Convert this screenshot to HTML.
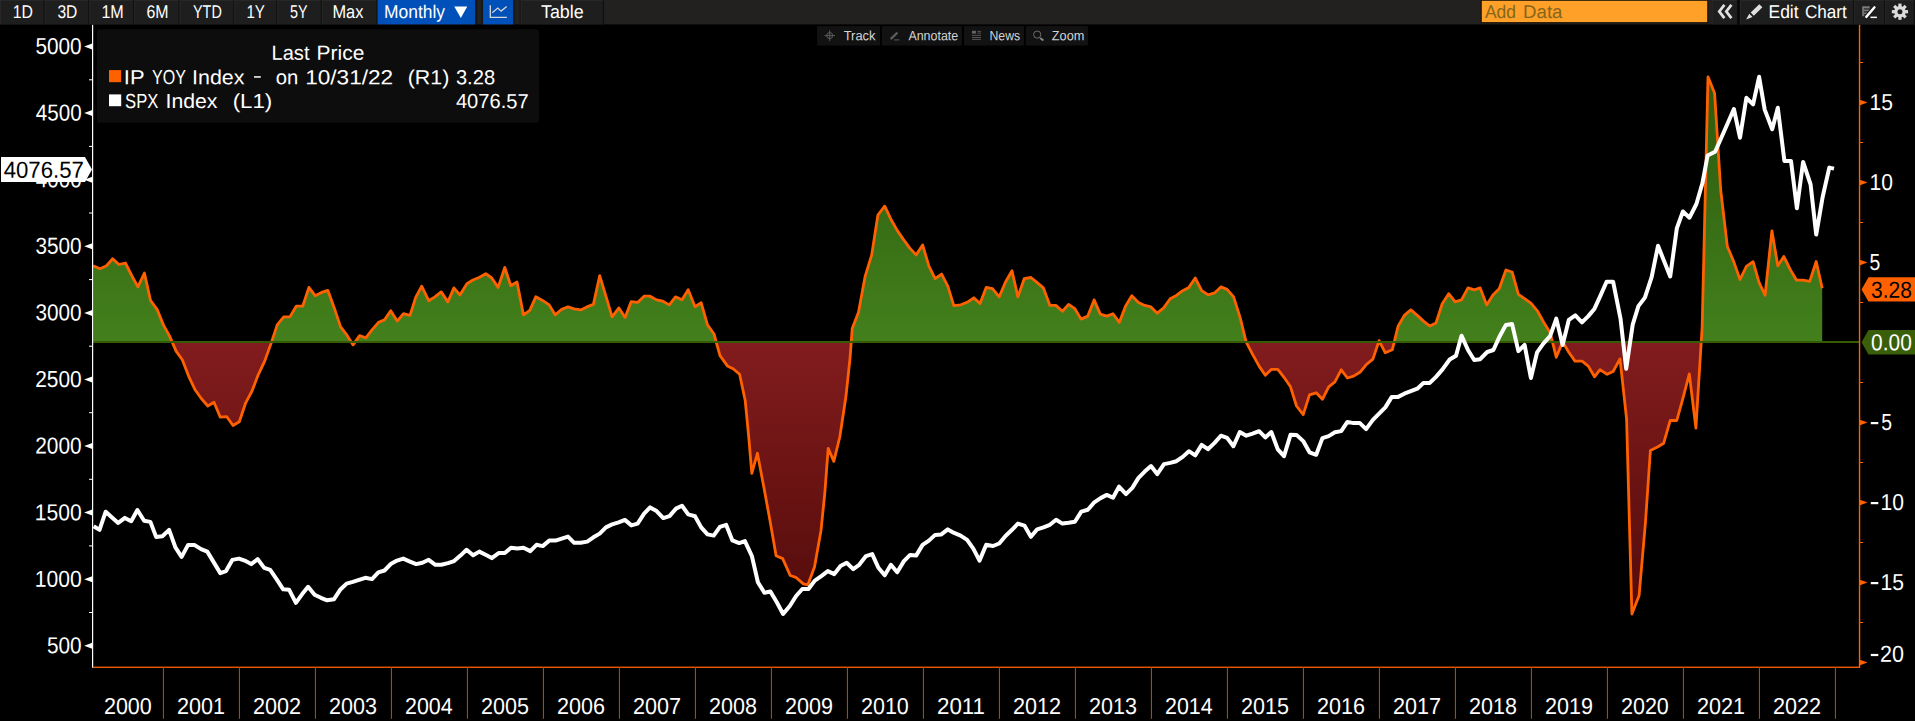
<!DOCTYPE html>
<html><head><meta charset="utf-8"><title>Chart</title>
<style>
html,body{margin:0;padding:0;background:#000;}
body{width:1915px;height:721px;overflow:hidden;position:relative;font-family:"Liberation Sans", sans-serif;}
svg{position:absolute;left:0;top:0;}
svg text{font-family:"Liberation Sans", sans-serif;}
</style></head><body>
<svg width="1915" height="721" viewBox="0 0 1915 721">
<rect x="0" y="0" width="1915" height="721" fill="#000"/>
<defs>
<linearGradient id="gG" gradientUnits="userSpaceOnUse" x1="0" y1="60" x2="0" y2="342.0">
<stop offset="0" stop-color="#2a560c"/><stop offset="1" stop-color="#43801c"/></linearGradient>
<linearGradient id="gR" gradientUnits="userSpaceOnUse" x1="0" y1="342.0" x2="0" y2="620">
<stop offset="0" stop-color="#821c1e"/><stop offset="0.5" stop-color="#6b1313"/><stop offset="1" stop-color="#520b0b"/></linearGradient>
<clipPath id="cUp"><rect x="0" y="0" width="1915" height="342.0"/></clipPath>
<clipPath id="cDn"><rect x="0" y="342.0" width="1915" height="721"/></clipPath>
</defs>
<rect x="97" y="29.2" width="442" height="93.6" rx="3" fill="#0d0d0d"/>
<polygon points="93.2,342.0 93.2,265.7 100.0,268.7 106.5,265.7 112.7,258.7 118.9,264.5 125.4,263.0 131.7,275.5 137.9,286.9 144.4,273.0 150.6,300.7 157.1,309.4 163.4,324.9 169.6,336.1 176.1,351.1 182.3,359.8 188.6,376.1 195.1,389.8 201.3,398.5 207.8,406.0 214.0,402.3 220.3,417.2 226.8,416.7 233.0,425.5 239.3,421.7 245.7,402.8 252.0,391.0 258.2,374.8 264.7,361.1 271.0,343.6 277.2,324.9 283.7,316.9 289.9,316.9 296.2,306.2 302.7,306.2 308.9,287.4 315.1,295.7 321.6,292.4 327.9,290.4 334.1,307.4 340.6,326.9 346.8,334.9 353.1,344.9 359.6,335.6 365.8,337.9 372.0,329.9 378.5,322.4 384.5,319.9 390.7,310.7 397.2,321.1 403.5,313.7 410.0,315.4 415.7,297.4 421.7,286.2 428.7,300.7 434.9,296.9 441.2,291.9 447.9,301.9 453.9,287.9 459.9,294.9 466.9,283.7 472.9,280.0 479.1,277.5 485.8,273.7 491.8,278.0 498.1,287.4 504.8,267.5 510.8,285.7 517.0,282.0 523.5,314.9 529.8,310.4 535.8,296.7 542.5,300.4 549.2,304.9 555.2,314.9 561.7,309.2 568.0,306.9 574.2,308.9 580.7,309.9 586.9,306.9 593.4,304.4 599.7,275.7 605.9,296.2 612.1,316.9 618.9,307.9 625.1,317.4 631.1,301.7 637.6,302.4 644.1,296.2 650.1,296.2 656.6,299.9 662.8,301.2 669.3,304.9 675.5,296.9 682.0,299.8 688.2,289.8 695.0,306.8 701.2,302.8 707.5,324.8 714.2,334.3 716.2,342.1 720.0,355.6 727.4,365.9 733.1,368.7 739.6,374.3 745.2,400.5 749.0,439.8 751.8,473.4 757.4,453.3 763.9,487.5 770.1,521.2 776.1,555.8 782.7,558.6 790.2,575.5 795.8,577.3 803.3,583.9 807.9,584.8 814.5,567.0 821.0,530.5 824.8,493.1 828.2,448.3 833.8,461.4 839.8,437.0 845.9,396.8 850.1,357.5 852.2,328.5 858.5,312.3 865.2,276.1 871.7,254.9 877.9,215.0 884.7,206.2 890.9,219.2 897.2,230.4 903.4,239.4 909.6,247.9 916.1,254.9 922.6,244.9 928.9,266.1 935.1,278.6 941.6,274.1 947.8,286.1 953.8,305.6 960.8,304.8 967.1,302.3 973.8,297.8 980.0,303.6 986.2,287.4 992.5,288.7 999.2,296.9 1005.5,282.0 1012.0,270.7 1017.9,296.9 1024.2,278.7 1030.9,277.5 1036.9,282.4 1043.4,287.9 1049.9,305.4 1055.9,305.4 1062.4,311.2 1068.6,304.4 1074.9,308.7 1081.1,319.1 1087.8,316.1 1094.1,299.9 1100.3,314.1 1106.8,316.1 1113.0,313.7 1119.3,322.4 1125.5,306.2 1131.8,295.7 1138.5,302.4 1144.7,305.4 1151.0,306.9 1157.2,313.2 1163.7,307.9 1170.2,298.7 1176.4,295.4 1182.7,290.7 1188.9,287.4 1195.2,278.0 1201.7,290.7 1208.1,294.9 1214.6,292.9 1220.9,286.9 1227.1,289.4 1233.6,296.9 1240.1,317.4 1246.1,341.9 1252.6,354.3 1259.1,366.1 1265.3,375.3 1271.5,369.3 1277.8,369.3 1284.0,377.3 1290.5,386.8 1296.5,406.0 1303.2,414.7 1309.5,394.8 1316.2,392.8 1322.4,399.3 1328.7,386.8 1334.9,381.8 1341.2,369.8 1347.4,378.0 1353.6,376.1 1359.9,372.3 1366.1,364.8 1372.9,359.1 1379.1,340.6 1385.3,352.8 1392.3,349.8 1398.1,326.1 1404.3,315.4 1410.8,309.9 1417.3,315.4 1423.5,321.1 1429.8,326.1 1436.0,322.9 1442.2,303.7 1448.7,293.7 1455.2,301.9 1461.5,299.9 1468.0,287.9 1474.2,289.9 1480.2,287.9 1486.7,304.9 1492.9,294.9 1499.2,288.7 1505.9,270.0 1512.1,272.0 1518.4,294.4 1524.6,298.7 1530.9,303.2 1537.6,311.2 1543.8,322.4 1550.1,332.4 1556.3,357.3 1562.6,341.9 1568.8,352.3 1575.0,361.1 1582.0,361.1 1588.3,366.1 1594.5,376.8 1600.0,369.6 1607.1,374.3 1613.1,371.5 1620.0,358.9 1626.6,419.2 1631.9,614.0 1639.1,595.5 1645.4,523.0 1650.4,450.5 1657.5,447.0 1663.7,443.2 1670.2,420.5 1676.8,420.5 1683.3,396.8 1689.3,373.9 1695.9,428.2 1702.2,326.0 1708.0,76.8 1714.6,93.3 1720.7,190.0 1727.3,246.2 1733.9,262.1 1740.0,279.5 1746.4,266.4 1753.1,261.7 1759.1,282.7 1765.1,295.2 1771.9,230.8 1777.8,265.8 1783.8,256.5 1790.6,270.1 1796.6,280.2 1803.1,280.2 1809.7,281.4 1816.2,261.5 1822.2,288.3 1822.2,342.0" fill="url(#gG)" clip-path="url(#cUp)"/>
<polygon points="93.2,342.0 93.2,265.7 100.0,268.7 106.5,265.7 112.7,258.7 118.9,264.5 125.4,263.0 131.7,275.5 137.9,286.9 144.4,273.0 150.6,300.7 157.1,309.4 163.4,324.9 169.6,336.1 176.1,351.1 182.3,359.8 188.6,376.1 195.1,389.8 201.3,398.5 207.8,406.0 214.0,402.3 220.3,417.2 226.8,416.7 233.0,425.5 239.3,421.7 245.7,402.8 252.0,391.0 258.2,374.8 264.7,361.1 271.0,343.6 277.2,324.9 283.7,316.9 289.9,316.9 296.2,306.2 302.7,306.2 308.9,287.4 315.1,295.7 321.6,292.4 327.9,290.4 334.1,307.4 340.6,326.9 346.8,334.9 353.1,344.9 359.6,335.6 365.8,337.9 372.0,329.9 378.5,322.4 384.5,319.9 390.7,310.7 397.2,321.1 403.5,313.7 410.0,315.4 415.7,297.4 421.7,286.2 428.7,300.7 434.9,296.9 441.2,291.9 447.9,301.9 453.9,287.9 459.9,294.9 466.9,283.7 472.9,280.0 479.1,277.5 485.8,273.7 491.8,278.0 498.1,287.4 504.8,267.5 510.8,285.7 517.0,282.0 523.5,314.9 529.8,310.4 535.8,296.7 542.5,300.4 549.2,304.9 555.2,314.9 561.7,309.2 568.0,306.9 574.2,308.9 580.7,309.9 586.9,306.9 593.4,304.4 599.7,275.7 605.9,296.2 612.1,316.9 618.9,307.9 625.1,317.4 631.1,301.7 637.6,302.4 644.1,296.2 650.1,296.2 656.6,299.9 662.8,301.2 669.3,304.9 675.5,296.9 682.0,299.8 688.2,289.8 695.0,306.8 701.2,302.8 707.5,324.8 714.2,334.3 716.2,342.1 720.0,355.6 727.4,365.9 733.1,368.7 739.6,374.3 745.2,400.5 749.0,439.8 751.8,473.4 757.4,453.3 763.9,487.5 770.1,521.2 776.1,555.8 782.7,558.6 790.2,575.5 795.8,577.3 803.3,583.9 807.9,584.8 814.5,567.0 821.0,530.5 824.8,493.1 828.2,448.3 833.8,461.4 839.8,437.0 845.9,396.8 850.1,357.5 852.2,328.5 858.5,312.3 865.2,276.1 871.7,254.9 877.9,215.0 884.7,206.2 890.9,219.2 897.2,230.4 903.4,239.4 909.6,247.9 916.1,254.9 922.6,244.9 928.9,266.1 935.1,278.6 941.6,274.1 947.8,286.1 953.8,305.6 960.8,304.8 967.1,302.3 973.8,297.8 980.0,303.6 986.2,287.4 992.5,288.7 999.2,296.9 1005.5,282.0 1012.0,270.7 1017.9,296.9 1024.2,278.7 1030.9,277.5 1036.9,282.4 1043.4,287.9 1049.9,305.4 1055.9,305.4 1062.4,311.2 1068.6,304.4 1074.9,308.7 1081.1,319.1 1087.8,316.1 1094.1,299.9 1100.3,314.1 1106.8,316.1 1113.0,313.7 1119.3,322.4 1125.5,306.2 1131.8,295.7 1138.5,302.4 1144.7,305.4 1151.0,306.9 1157.2,313.2 1163.7,307.9 1170.2,298.7 1176.4,295.4 1182.7,290.7 1188.9,287.4 1195.2,278.0 1201.7,290.7 1208.1,294.9 1214.6,292.9 1220.9,286.9 1227.1,289.4 1233.6,296.9 1240.1,317.4 1246.1,341.9 1252.6,354.3 1259.1,366.1 1265.3,375.3 1271.5,369.3 1277.8,369.3 1284.0,377.3 1290.5,386.8 1296.5,406.0 1303.2,414.7 1309.5,394.8 1316.2,392.8 1322.4,399.3 1328.7,386.8 1334.9,381.8 1341.2,369.8 1347.4,378.0 1353.6,376.1 1359.9,372.3 1366.1,364.8 1372.9,359.1 1379.1,340.6 1385.3,352.8 1392.3,349.8 1398.1,326.1 1404.3,315.4 1410.8,309.9 1417.3,315.4 1423.5,321.1 1429.8,326.1 1436.0,322.9 1442.2,303.7 1448.7,293.7 1455.2,301.9 1461.5,299.9 1468.0,287.9 1474.2,289.9 1480.2,287.9 1486.7,304.9 1492.9,294.9 1499.2,288.7 1505.9,270.0 1512.1,272.0 1518.4,294.4 1524.6,298.7 1530.9,303.2 1537.6,311.2 1543.8,322.4 1550.1,332.4 1556.3,357.3 1562.6,341.9 1568.8,352.3 1575.0,361.1 1582.0,361.1 1588.3,366.1 1594.5,376.8 1600.0,369.6 1607.1,374.3 1613.1,371.5 1620.0,358.9 1626.6,419.2 1631.9,614.0 1639.1,595.5 1645.4,523.0 1650.4,450.5 1657.5,447.0 1663.7,443.2 1670.2,420.5 1676.8,420.5 1683.3,396.8 1689.3,373.9 1695.9,428.2 1702.2,326.0 1708.0,76.8 1714.6,93.3 1720.7,190.0 1727.3,246.2 1733.9,262.1 1740.0,279.5 1746.4,266.4 1753.1,261.7 1759.1,282.7 1765.1,295.2 1771.9,230.8 1777.8,265.8 1783.8,256.5 1790.6,270.1 1796.6,280.2 1803.1,280.2 1809.7,281.4 1816.2,261.5 1822.2,288.3 1822.2,342.0" fill="url(#gR)" clip-path="url(#cDn)"/>
<polyline points="93.2,265.7 100.0,268.7 106.5,265.7 112.7,258.7 118.9,264.5 125.4,263.0 131.7,275.5 137.9,286.9 144.4,273.0 150.6,300.7 157.1,309.4 163.4,324.9 169.6,336.1 176.1,351.1 182.3,359.8 188.6,376.1 195.1,389.8 201.3,398.5 207.8,406.0 214.0,402.3 220.3,417.2 226.8,416.7 233.0,425.5 239.3,421.7 245.7,402.8 252.0,391.0 258.2,374.8 264.7,361.1 271.0,343.6 277.2,324.9 283.7,316.9 289.9,316.9 296.2,306.2 302.7,306.2 308.9,287.4 315.1,295.7 321.6,292.4 327.9,290.4 334.1,307.4 340.6,326.9 346.8,334.9 353.1,344.9 359.6,335.6 365.8,337.9 372.0,329.9 378.5,322.4 384.5,319.9 390.7,310.7 397.2,321.1 403.5,313.7 410.0,315.4 415.7,297.4 421.7,286.2 428.7,300.7 434.9,296.9 441.2,291.9 447.9,301.9 453.9,287.9 459.9,294.9 466.9,283.7 472.9,280.0 479.1,277.5 485.8,273.7 491.8,278.0 498.1,287.4 504.8,267.5 510.8,285.7 517.0,282.0 523.5,314.9 529.8,310.4 535.8,296.7 542.5,300.4 549.2,304.9 555.2,314.9 561.7,309.2 568.0,306.9 574.2,308.9 580.7,309.9 586.9,306.9 593.4,304.4 599.7,275.7 605.9,296.2 612.1,316.9 618.9,307.9 625.1,317.4 631.1,301.7 637.6,302.4 644.1,296.2 650.1,296.2 656.6,299.9 662.8,301.2 669.3,304.9 675.5,296.9 682.0,299.8 688.2,289.8 695.0,306.8 701.2,302.8 707.5,324.8 714.2,334.3 716.2,342.1 720.0,355.6 727.4,365.9 733.1,368.7 739.6,374.3 745.2,400.5 749.0,439.8 751.8,473.4 757.4,453.3 763.9,487.5 770.1,521.2 776.1,555.8 782.7,558.6 790.2,575.5 795.8,577.3 803.3,583.9 807.9,584.8 814.5,567.0 821.0,530.5 824.8,493.1 828.2,448.3 833.8,461.4 839.8,437.0 845.9,396.8 850.1,357.5 852.2,328.5 858.5,312.3 865.2,276.1 871.7,254.9 877.9,215.0 884.7,206.2 890.9,219.2 897.2,230.4 903.4,239.4 909.6,247.9 916.1,254.9 922.6,244.9 928.9,266.1 935.1,278.6 941.6,274.1 947.8,286.1 953.8,305.6 960.8,304.8 967.1,302.3 973.8,297.8 980.0,303.6 986.2,287.4 992.5,288.7 999.2,296.9 1005.5,282.0 1012.0,270.7 1017.9,296.9 1024.2,278.7 1030.9,277.5 1036.9,282.4 1043.4,287.9 1049.9,305.4 1055.9,305.4 1062.4,311.2 1068.6,304.4 1074.9,308.7 1081.1,319.1 1087.8,316.1 1094.1,299.9 1100.3,314.1 1106.8,316.1 1113.0,313.7 1119.3,322.4 1125.5,306.2 1131.8,295.7 1138.5,302.4 1144.7,305.4 1151.0,306.9 1157.2,313.2 1163.7,307.9 1170.2,298.7 1176.4,295.4 1182.7,290.7 1188.9,287.4 1195.2,278.0 1201.7,290.7 1208.1,294.9 1214.6,292.9 1220.9,286.9 1227.1,289.4 1233.6,296.9 1240.1,317.4 1246.1,341.9 1252.6,354.3 1259.1,366.1 1265.3,375.3 1271.5,369.3 1277.8,369.3 1284.0,377.3 1290.5,386.8 1296.5,406.0 1303.2,414.7 1309.5,394.8 1316.2,392.8 1322.4,399.3 1328.7,386.8 1334.9,381.8 1341.2,369.8 1347.4,378.0 1353.6,376.1 1359.9,372.3 1366.1,364.8 1372.9,359.1 1379.1,340.6 1385.3,352.8 1392.3,349.8 1398.1,326.1 1404.3,315.4 1410.8,309.9 1417.3,315.4 1423.5,321.1 1429.8,326.1 1436.0,322.9 1442.2,303.7 1448.7,293.7 1455.2,301.9 1461.5,299.9 1468.0,287.9 1474.2,289.9 1480.2,287.9 1486.7,304.9 1492.9,294.9 1499.2,288.7 1505.9,270.0 1512.1,272.0 1518.4,294.4 1524.6,298.7 1530.9,303.2 1537.6,311.2 1543.8,322.4 1550.1,332.4 1556.3,357.3 1562.6,341.9 1568.8,352.3 1575.0,361.1 1582.0,361.1 1588.3,366.1 1594.5,376.8 1600.0,369.6 1607.1,374.3 1613.1,371.5 1620.0,358.9 1626.6,419.2 1631.9,614.0 1639.1,595.5 1645.4,523.0 1650.4,450.5 1657.5,447.0 1663.7,443.2 1670.2,420.5 1676.8,420.5 1683.3,396.8 1689.3,373.9 1695.9,428.2 1702.2,326.0 1708.0,76.8 1714.6,93.3 1720.7,190.0 1727.3,246.2 1733.9,262.1 1740.0,279.5 1746.4,266.4 1753.1,261.7 1759.1,282.7 1765.1,295.2 1771.9,230.8 1777.8,265.8 1783.8,256.5 1790.6,270.1 1796.6,280.2 1803.1,280.2 1809.7,281.4 1816.2,261.5 1822.2,288.3" fill="none" stroke="#ff6100" stroke-width="2.8" stroke-linejoin="round" stroke-linecap="butt"/>
<rect x="93" y="341" width="1766.5" height="2" fill="#355c00"/>
<polyline points="93.7,526.2 99.5,529.9 105.7,511.7 112.0,517.4 118.2,522.9 124.9,517.9 131.2,521.2 137.4,510.0 144.1,520.7 150.4,521.9 156.1,536.9 162.4,536.2 169.1,529.9 175.4,547.4 181.6,556.9 188.1,544.9 194.3,544.9 201.1,549.1 207.3,551.6 213.5,561.9 220.3,573.1 226.0,571.1 232.3,559.9 239.0,558.6 244.7,560.6 251.2,564.1 257.7,559.1 264.2,567.9 270.2,569.9 276.7,579.3 283.2,589.3 289.2,589.8 295.9,602.8 302.2,594.1 308.1,586.8 314.6,594.8 320.9,597.8 327.1,600.3 333.9,599.3 340.1,589.8 346.6,583.6 352.8,581.8 359.1,579.8 365.3,577.8 372.0,579.1 378.3,572.4 384.5,570.5 390.7,564.1 397.0,560.6 403.2,558.6 410.0,561.6 416.2,564.1 422.4,562.8 428.7,559.8 435.4,564.8 441.4,564.8 447.9,563.1 454.1,561.1 460.4,555.6 466.6,549.8 473.1,555.3 479.3,551.6 485.6,554.8 491.8,558.1 498.6,553.1 504.8,553.1 511.0,547.8 517.3,548.6 523.5,547.8 530.3,551.1 536.5,544.8 542.7,546.1 549.2,540.6 555.5,540.6 561.7,538.6 568.0,536.6 574.2,542.8 580.7,542.8 587.2,541.6 593.4,537.3 599.7,533.6 605.9,527.4 612.1,524.4 618.6,522.4 624.9,519.9 631.4,525.4 637.6,523.6 644.1,513.6 650.1,507.4 656.6,511.1 663.3,518.1 669.5,516.1 676.0,508.6 682.0,505.7 688.2,514.4 695.0,516.2 701.2,527.4 707.5,534.4 713.7,535.6 719.9,526.9 726.2,524.9 732.4,540.4 739.2,543.1 744.9,541.1 751.9,556.1 757.9,582.3 764.4,592.8 770.4,591.5 776.8,602.3 783.1,614.0 789.8,606.0 796.1,596.0 802.3,589.0 808.5,589.0 814.8,580.6 821.3,576.1 827.8,571.1 834.3,574.1 840.5,566.1 846.7,562.8 853.2,569.1 859.2,564.8 866.0,556.1 872.2,554.1 878.4,567.8 884.7,575.3 890.9,564.8 897.2,572.3 903.9,561.1 910.1,554.9 916.1,555.6 922.6,544.9 928.9,540.6 935.1,534.9 941.3,534.4 947.8,529.4 954.1,532.9 960.6,535.6 967.1,539.9 973.3,548.6 979.5,560.6 986.2,544.8 993.0,546.0 999.2,543.5 1005.5,536.0 1012.0,529.8 1017.9,523.6 1024.4,525.6 1030.9,536.8 1037.2,529.3 1043.4,527.3 1049.9,524.8 1056.1,519.8 1062.4,523.6 1068.6,522.8 1074.9,521.8 1081.3,511.6 1087.8,509.8 1094.3,502.3 1100.6,498.1 1106.8,494.9 1113.0,497.8 1119.0,486.6 1126.0,494.1 1132.3,487.9 1138.5,477.9 1144.7,471.6 1151.0,466.1 1157.2,474.1 1164.0,464.1 1170.2,462.9 1176.4,461.2 1182.7,456.9 1188.9,451.2 1195.2,455.4 1201.7,444.9 1207.9,449.2 1214.6,442.9 1220.9,435.7 1227.1,437.9 1233.4,446.2 1239.8,432.0 1246.3,435.7 1252.6,433.7 1259.1,431.2 1265.3,437.4 1271.3,432.0 1277.8,449.4 1284.0,456.2 1290.5,434.8 1296.5,434.9 1303.2,441.1 1309.5,452.3 1316.2,454.8 1322.4,438.1 1328.7,436.1 1334.9,432.3 1341.2,431.1 1347.4,421.9 1353.6,423.1 1359.9,423.1 1366.1,429.1 1372.9,419.9 1379.1,413.6 1385.3,407.4 1391.8,396.9 1398.1,396.9 1404.3,393.7 1410.8,391.2 1417.3,388.7 1423.5,382.9 1429.8,382.9 1436.0,376.9 1442.5,369.4 1449.7,359.5 1456.0,355.7 1461.5,335.7 1468.0,350.0 1474.2,360.0 1480.2,359.2 1487.2,352.0 1493.4,350.0 1499.7,336.2 1505.9,324.9 1512.1,324.1 1518.4,351.1 1524.6,344.9 1530.9,378.0 1537.1,352.3 1543.3,343.6 1550.1,336.1 1556.3,318.6 1562.6,344.9 1568.8,319.9 1575.3,315.4 1582.0,322.4 1588.3,316.1 1594.5,308.7 1600.0,296.7 1606.6,281.7 1613.1,281.7 1620.6,319.2 1626.2,368.7 1632.7,324.6 1638.4,306.1 1644.9,297.6 1651.7,276.8 1658.0,245.8 1670.2,276.5 1676.8,228.4 1682.9,211.5 1689.5,217.7 1696.4,204.0 1702.4,183.3 1707.6,155.5 1715.1,151.7 1721.3,137.7 1727.7,123.3 1733.9,109.0 1740.0,137.7 1746.4,97.8 1753.1,104.4 1759.1,76.8 1764.7,109.6 1772.2,129.3 1777.8,107.7 1784.4,161.1 1791.0,161.1 1796.9,208.3 1803.1,162.0 1810.6,184.5 1816.2,234.6 1822.7,196.7 1829.3,167.6 1834.0,168.6" fill="none" stroke="#fff" stroke-width="4.0" stroke-linejoin="round" stroke-linecap="butt"/>
<rect x="92" y="24.7" width="1.2" height="643.0" fill="#fff"/>
<rect x="1858.85" y="24.7" width="1.4" height="643.1" fill="#ff6100"/>
<rect x="93" y="666.6" width="1767.1" height="1.3" fill="#ff6100"/>
<polygon points="92.2,642.8 92.2,648.8 84.2,645.8" fill="#fff"/>
<text transform="translate(46.97,653.31) rotate(0.03) scale(0.8985,1.0000)" font-size="23.1" fill="#fff" >500</text>
<polygon points="92.2,576.2 92.2,582.2 84.2,579.2" fill="#fff"/>
<text transform="translate(34.72,586.72) rotate(0.03) scale(0.9130,1.0000)" font-size="23.1" fill="#fff" >1000</text>
<polygon points="92.2,509.6 92.2,515.6 84.2,512.6" fill="#fff"/>
<text transform="translate(34.72,520.13) rotate(0.03) scale(0.9130,1.0000)" font-size="23.1" fill="#fff" >1500</text>
<polygon points="92.2,443.0 92.2,449.0 84.2,446.0" fill="#fff"/>
<text transform="translate(35.26,453.54) rotate(0.03) scale(0.9023,1.0000)" font-size="23.1" fill="#fff" >2000</text>
<polygon points="92.2,376.4 92.2,382.4 84.2,379.4" fill="#fff"/>
<text transform="translate(35.26,386.95) rotate(0.03) scale(0.9023,1.0000)" font-size="23.1" fill="#fff" >2500</text>
<polygon points="92.2,309.9 92.2,315.9 84.2,312.9" fill="#fff"/>
<text transform="translate(35.52,320.36) rotate(0.03) scale(0.8970,1.0000)" font-size="23.1" fill="#fff" >3000</text>
<polygon points="92.2,243.3 92.2,249.3 84.2,246.3" fill="#fff"/>
<text transform="translate(35.52,253.77) rotate(0.03) scale(0.8970,1.0000)" font-size="23.1" fill="#fff" >3500</text>
<polygon points="92.2,176.7 92.2,182.7 84.2,179.7" fill="#fff"/>
<text transform="translate(35.84,187.18) rotate(0.03) scale(0.8908,1.0000)" font-size="23.1" fill="#fff" >4000</text>
<polygon points="92.2,110.1 92.2,116.1 84.2,113.1" fill="#fff"/>
<text transform="translate(35.84,120.59) rotate(0.03) scale(0.8908,1.0000)" font-size="23.1" fill="#fff" >4500</text>
<polygon points="92.2,43.5 92.2,49.5 84.2,46.5" fill="#fff"/>
<text transform="translate(35.47,54.00) rotate(0.03) scale(0.8981,1.0000)" font-size="23.1" fill="#fff" >5000</text>
<rect x="89" y="612.0" width="3" height="1" fill="#fff"/>
<rect x="89" y="545.4" width="3" height="1" fill="#fff"/>
<rect x="89" y="478.8" width="3" height="1" fill="#fff"/>
<rect x="89" y="412.2" width="3" height="1" fill="#fff"/>
<rect x="89" y="345.7" width="3" height="1" fill="#fff"/>
<rect x="89" y="279.1" width="3" height="1" fill="#fff"/>
<rect x="89" y="212.5" width="3" height="1" fill="#fff"/>
<rect x="89" y="145.9" width="3" height="1" fill="#fff"/>
<rect x="89" y="79.3" width="3" height="1" fill="#fff"/>
<polygon points="1,157.1 85,157.1 92,169.5 85,181.9 1,181.9" fill="#fff"/>
<text transform="translate(3.70,177.78) rotate(0.03) scale(0.9593,1.0000)" font-size="23.1" fill="#000" >4076.57</text>
<polygon points="1860,99.8 1860,105.2 1867.5,102.5" fill="#ff6100"/>
<text transform="translate(1869.52,109.90) rotate(0.03) scale(0.9137,1.0000)" font-size="23.1" fill="#fff" >15</text>
<polygon points="1860,179.8 1860,185.2 1867.5,182.5" fill="#ff6100"/>
<text transform="translate(1869.52,189.90) rotate(0.03) scale(0.9114,1.0000)" font-size="23.1" fill="#fff" >10</text>
<polygon points="1860,259.8 1860,265.2 1867.5,262.5" fill="#ff6100"/>
<text transform="translate(1869.43,269.90) rotate(0.03) scale(0.8385,1.0000)" font-size="23.1" fill="#fff" >5</text>
<polygon points="1860,419.8 1860,425.2 1867.5,422.5" fill="#ff6100"/>
<rect x="1870.8" y="422.0" width="7.5" height="2.2" fill="#fff"/>
<text transform="translate(1881.23,429.90) rotate(0.03) scale(0.8385,1.0000)" font-size="23.1" fill="#fff" >5</text>
<polygon points="1860,499.8 1860,505.2 1867.5,502.5" fill="#ff6100"/>
<rect x="1870.8" y="502.0" width="7.5" height="2.2" fill="#fff"/>
<text transform="translate(1880.42,509.90) rotate(0.03) scale(0.9114,1.0000)" font-size="23.1" fill="#fff" >10</text>
<polygon points="1860,579.8 1860,585.2 1867.5,582.5" fill="#ff6100"/>
<rect x="1870.8" y="582.0" width="7.5" height="2.2" fill="#fff"/>
<text transform="translate(1880.42,589.90) rotate(0.03) scale(0.9137,1.0000)" font-size="23.1" fill="#fff" >15</text>
<polygon points="1860,659.8 1860,665.2 1867.5,662.5" fill="#ff6100"/>
<rect x="1870.8" y="653.9" width="7.5" height="2.2" fill="#fff"/>
<text transform="translate(1879.92,661.80) rotate(0.03) scale(0.9314,1.0000)" font-size="23.1" fill="#fff" >20</text>
<rect x="1860" y="62.0" width="3.2" height="1" fill="#ff6100"/>
<rect x="1860" y="142.0" width="3.2" height="1" fill="#ff6100"/>
<rect x="1860" y="222.0" width="3.2" height="1" fill="#ff6100"/>
<rect x="1860" y="302.0" width="3.2" height="1" fill="#ff6100"/>
<rect x="1860" y="382.0" width="3.2" height="1" fill="#ff6100"/>
<rect x="1860" y="462.0" width="3.2" height="1" fill="#ff6100"/>
<rect x="1860" y="542.0" width="3.2" height="1" fill="#ff6100"/>
<rect x="1860" y="622.0" width="3.2" height="1" fill="#ff6100"/>
<polygon points="1861.5,289.4 1868.5,277.2 1915,277.2 1915,301.6 1868.5,301.6" fill="#ff6100"/>
<text transform="translate(1871.11,297.85) rotate(0.03) scale(0.9064,1.0000)" font-size="23.1" fill="#000" >3.28</text>
<polygon points="1861.5,342.2 1868.5,330.1 1915,330.1 1915,354.4 1868.5,354.4" fill="#3a5f0b"/>
<text transform="translate(1871.12,350.25) rotate(0.03) scale(0.9052,1.0000)" font-size="23.1" fill="#fff" >0.00</text>
<rect x="162.9" y="667.2" width="1.1" height="51.6" fill="#a54c00"/>
<text transform="translate(103.93,714.00) rotate(0.03) scale(0.9307,1.0000)" font-size="23.1" fill="#fff" >2000</text>
<rect x="238.9" y="667.2" width="1.1" height="51.6" fill="#a54c00"/>
<text transform="translate(177.02,714.00) rotate(0.03) scale(0.9351,1.0000)" font-size="23.1" fill="#fff" >2001</text>
<rect x="314.9" y="667.2" width="1.1" height="51.6" fill="#a54c00"/>
<text transform="translate(253.02,714.00) rotate(0.03) scale(0.9351,1.0000)" font-size="23.1" fill="#fff" >2002</text>
<rect x="390.9" y="667.2" width="1.1" height="51.6" fill="#a54c00"/>
<text transform="translate(329.02,714.00) rotate(0.03) scale(0.9329,1.0000)" font-size="23.1" fill="#fff" >2003</text>
<rect x="466.9" y="667.2" width="1.1" height="51.6" fill="#a54c00"/>
<text transform="translate(405.03,714.00) rotate(0.03) scale(0.9263,1.0000)" font-size="23.1" fill="#fff" >2004</text>
<rect x="542.9" y="667.2" width="1.1" height="51.6" fill="#a54c00"/>
<text transform="translate(481.02,714.00) rotate(0.03) scale(0.9318,1.0000)" font-size="23.1" fill="#fff" >2005</text>
<rect x="618.9" y="667.2" width="1.1" height="51.6" fill="#a54c00"/>
<text transform="translate(557.02,714.00) rotate(0.03) scale(0.9329,1.0000)" font-size="23.1" fill="#fff" >2006</text>
<rect x="694.9" y="667.2" width="1.1" height="51.6" fill="#a54c00"/>
<text transform="translate(633.02,714.00) rotate(0.03) scale(0.9351,1.0000)" font-size="23.1" fill="#fff" >2007</text>
<rect x="770.9" y="667.2" width="1.1" height="51.6" fill="#a54c00"/>
<text transform="translate(709.02,714.00) rotate(0.03) scale(0.9318,1.0000)" font-size="23.1" fill="#fff" >2008</text>
<rect x="846.9" y="667.2" width="1.1" height="51.6" fill="#a54c00"/>
<text transform="translate(785.02,714.00) rotate(0.03) scale(0.9340,1.0000)" font-size="23.1" fill="#fff" >2009</text>
<rect x="922.9" y="667.2" width="1.1" height="51.6" fill="#a54c00"/>
<text transform="translate(861.03,714.00) rotate(0.03) scale(0.9307,1.0000)" font-size="23.1" fill="#fff" >2010</text>
<rect x="998.9" y="667.2" width="1.1" height="51.6" fill="#a54c00"/>
<text transform="translate(936.98,714.00) rotate(0.03) scale(0.9681,1.0000)" font-size="23.1" fill="#fff" >2011</text>
<rect x="1074.9" y="667.2" width="1.1" height="51.6" fill="#a54c00"/>
<text transform="translate(1013.02,714.00) rotate(0.03) scale(0.9351,1.0000)" font-size="23.1" fill="#fff" >2012</text>
<rect x="1150.9" y="667.2" width="1.1" height="51.6" fill="#a54c00"/>
<text transform="translate(1089.02,714.00) rotate(0.03) scale(0.9329,1.0000)" font-size="23.1" fill="#fff" >2013</text>
<rect x="1226.9" y="667.2" width="1.1" height="51.6" fill="#a54c00"/>
<text transform="translate(1165.03,714.00) rotate(0.03) scale(0.9263,1.0000)" font-size="23.1" fill="#fff" >2014</text>
<rect x="1302.9" y="667.2" width="1.1" height="51.6" fill="#a54c00"/>
<text transform="translate(1241.02,714.00) rotate(0.03) scale(0.9318,1.0000)" font-size="23.1" fill="#fff" >2015</text>
<rect x="1378.9" y="667.2" width="1.1" height="51.6" fill="#a54c00"/>
<text transform="translate(1317.02,714.00) rotate(0.03) scale(0.9329,1.0000)" font-size="23.1" fill="#fff" >2016</text>
<rect x="1454.9" y="667.2" width="1.1" height="51.6" fill="#a54c00"/>
<text transform="translate(1393.02,714.00) rotate(0.03) scale(0.9351,1.0000)" font-size="23.1" fill="#fff" >2017</text>
<rect x="1530.9" y="667.2" width="1.1" height="51.6" fill="#a54c00"/>
<text transform="translate(1469.02,714.00) rotate(0.03) scale(0.9318,1.0000)" font-size="23.1" fill="#fff" >2018</text>
<rect x="1606.9" y="667.2" width="1.1" height="51.6" fill="#a54c00"/>
<text transform="translate(1545.02,714.00) rotate(0.03) scale(0.9340,1.0000)" font-size="23.1" fill="#fff" >2019</text>
<rect x="1682.9" y="667.2" width="1.1" height="51.6" fill="#a54c00"/>
<text transform="translate(1621.03,714.00) rotate(0.03) scale(0.9307,1.0000)" font-size="23.1" fill="#fff" >2020</text>
<rect x="1758.9" y="667.2" width="1.1" height="51.6" fill="#a54c00"/>
<text transform="translate(1697.02,714.00) rotate(0.03) scale(0.9351,1.0000)" font-size="23.1" fill="#fff" >2021</text>
<rect x="1834.9" y="667.2" width="1.1" height="51.6" fill="#a54c00"/>
<text transform="translate(1773.02,714.00) rotate(0.03) scale(0.9351,1.0000)" font-size="23.1" fill="#fff" >2022</text>
<rect x="109" y="70.1" width="12.2" height="12.1" fill="#ff6100"/>
<rect x="109" y="94.4" width="12.2" height="11.8" fill="#fff"/>
<text transform="translate(271.49,59.80) rotate(0.03) scale(0.9907,1.0000)" font-size="20.3" fill="#fff" >Last</text>
<text transform="translate(316.62,59.80) rotate(0.03) scale(1.0332,1.0000)" font-size="20.3" fill="#fff" >Price</text>
<text transform="translate(123.83,84.20) rotate(0.03) scale(1.0804,1.0000)" font-size="20.3" fill="#fff" >IP</text>
<text transform="translate(151.98,84.20) rotate(0.03) scale(0.7901,1.0000)" font-size="20.3" fill="#fff" >YOY</text>
<text transform="translate(192.07,84.20) rotate(0.03) scale(1.0555,1.0000)" font-size="20.3" fill="#fff" >Index</text>
<rect x="254" y="76.2" width="6.8" height="1.5" fill="#fff"/>
<text transform="translate(275.69,84.20) rotate(0.03) scale(0.9974,1.0000)" font-size="20.3" fill="#fff" >on</text>
<text transform="translate(305.21,84.20) rotate(0.03) scale(1.1133,1.0000)" font-size="20.3" fill="#fff" >10/31/22</text>
<text transform="translate(407.72,84.20) rotate(0.03) scale(1.0527,1.0000)" font-size="20.3" fill="#fff" >(R1)</text>
<text transform="translate(455.94,84.20) rotate(0.03) scale(0.9918,1.0000)" font-size="20.3" fill="#fff" >3.28</text>
<text transform="translate(125.05,108.10) rotate(0.03) scale(0.8187,1.0000)" font-size="20.3" fill="#fff" >SPX</text>
<text transform="translate(165.49,108.10) rotate(0.03) scale(1.0471,1.0000)" font-size="20.3" fill="#fff" >Index</text>
<text transform="translate(232.66,108.10) rotate(0.03) scale(1.0967,1.0000)" font-size="20.3" fill="#fff" >(L1)</text>
<text transform="translate(455.95,108.10) rotate(0.03) scale(0.9901,1.0000)" font-size="20.3" fill="#fff" >4076.57</text>
<rect x="817.1" y="26.1" width="62.9" height="19.4" fill="#121212"/>
<rect x="881.9" y="26.1" width="80.0" height="19.4" fill="#121212"/>
<rect x="964" y="26.1" width="60.0" height="19.4" fill="#121212"/>
<rect x="1025.8" y="26.1" width="62.1" height="19.4" fill="#121212"/>
<text transform="translate(843.64,40.20) rotate(0.03) scale(0.9533,1.0000)" font-size="13.6" fill="#d4d4d4" >Track</text>
<text transform="translate(908.40,40.20) rotate(0.03) scale(0.9154,1.0000)" font-size="13.6" fill="#d4d4d4" >Annotate</text>
<text transform="translate(989.52,40.20) rotate(0.03) scale(0.9002,1.0000)" font-size="13.6" fill="#d4d4d4" >News</text>
<text transform="translate(1051.82,40.20) rotate(0.03) scale(0.9356,1.0000)" font-size="13.6" fill="#d4d4d4" >Zoom</text>
<g stroke="#5c5c5c" stroke-width="1" fill="none"><circle cx="829.7" cy="35.6" r="3"/><path d="M824.4 35.6H835M829.7 30.3V40.9"/></g>
<g stroke="#5c5c5c" fill="none"><path d="M890.6 39.1L897.4 32.6" stroke-width="2.2"/><path d="M894 39.9H899.3" stroke-width="1"/></g>
<g fill="#666"><rect x="972" y="30.8" width="3.9" height="2.8"/><rect x="977.3" y="30.9" width="3.7" height="0.8"/><rect x="977.3" y="32.7" width="3.7" height="0.8"/><rect x="972" y="34.9" width="9" height="0.8"/><rect x="972" y="37" width="9" height="0.8"/><rect x="972" y="38.9" width="9" height="0.8"/></g>
<g fill="none"><circle cx="1037.2" cy="34.6" r="3.6" stroke="#6c6c6c" stroke-width="1"/><path d="M1040.2 37.9L1043.4 40.6" stroke="#858585" stroke-width="2"/></g>
<rect x="0" y="0" width="1915" height="24.4" fill="#23211f"/>
<rect x="0" y="0" width="44.8" height="24.4" fill="#1e1e1e"/>
<rect x="0" y="0" width="44.8" height="1" fill="#272727"/>
<rect x="0" y="1" width="1" height="23.2" fill="#272727"/>
<rect x="43.7" y="0" width="1.1" height="24.4" fill="#0e0e0e"/>
<rect x="44.8" y="0" width="44.6" height="24.4" fill="#1e1e1e"/>
<rect x="44.8" y="0" width="44.6" height="1" fill="#272727"/>
<rect x="44.8" y="1" width="1" height="23.2" fill="#272727"/>
<rect x="88.3" y="0" width="1.1" height="24.4" fill="#0e0e0e"/>
<rect x="89.4" y="0" width="44.8" height="24.4" fill="#1e1e1e"/>
<rect x="89.4" y="0" width="44.8" height="1" fill="#272727"/>
<rect x="89.4" y="1" width="1" height="23.2" fill="#272727"/>
<rect x="133.1" y="0" width="1.1" height="24.4" fill="#0e0e0e"/>
<rect x="134.2" y="0" width="45.4" height="24.4" fill="#1e1e1e"/>
<rect x="134.2" y="0" width="45.4" height="1" fill="#272727"/>
<rect x="134.2" y="1" width="1" height="23.2" fill="#272727"/>
<rect x="178.5" y="0" width="1.1" height="24.4" fill="#0e0e0e"/>
<rect x="179.6" y="0" width="54.9" height="24.4" fill="#1e1e1e"/>
<rect x="179.6" y="0" width="54.9" height="1" fill="#272727"/>
<rect x="179.6" y="1" width="1" height="23.2" fill="#272727"/>
<rect x="233.4" y="0" width="1.1" height="24.4" fill="#0e0e0e"/>
<rect x="234.5" y="0" width="42.9" height="24.4" fill="#1e1e1e"/>
<rect x="234.5" y="0" width="42.9" height="1" fill="#272727"/>
<rect x="234.5" y="1" width="1" height="23.2" fill="#272727"/>
<rect x="276.3" y="0" width="1.1" height="24.4" fill="#0e0e0e"/>
<rect x="277.4" y="0" width="44.4" height="24.4" fill="#1e1e1e"/>
<rect x="277.4" y="0" width="44.4" height="1" fill="#272727"/>
<rect x="277.4" y="1" width="1" height="23.2" fill="#272727"/>
<rect x="320.7" y="0" width="1.1" height="24.4" fill="#0e0e0e"/>
<rect x="321.8" y="0" width="55.7" height="24.4" fill="#1e1e1e"/>
<rect x="321.8" y="0" width="55.7" height="1" fill="#272727"/>
<rect x="321.8" y="1" width="1" height="23.2" fill="#272727"/>
<rect x="376.4" y="0" width="1.1" height="24.4" fill="#0e0e0e"/>
<rect x="377.6" y="0" width="97.6" height="24.4" fill="#0050b9"/>
<rect x="475.2" y="0" width="1.9" height="24.4" fill="#161616"/>
<rect x="481.4" y="0" width="1.6" height="24.4" fill="#161616"/>
<rect x="483" y="0" width="30.3" height="24.4" fill="#0050b9"/>
<rect x="513.3" y="0" width="1.4" height="24.4" fill="#161616"/>
<rect x="519.6" y="0" width="1.2" height="24.4" fill="#161616"/>
<rect x="520.8" y="0" width="83.2" height="24.4" fill="#1e1e1e"/>
<rect x="520.8" y="0" width="83.2" height="1" fill="#272727"/>
<rect x="520.8" y="1" width="1" height="23.2" fill="#272727"/>
<rect x="602.9" y="0" width="1.1" height="24.4" fill="#0e0e0e"/>
<text transform="translate(12.81,17.90) rotate(0.03) scale(0.8611,1.0000)" font-size="18.4" fill="#fff" >1D</text>
<text transform="translate(57.42,17.90) rotate(0.03) scale(0.8477,1.0000)" font-size="18.4" fill="#fff" >3D</text>
<text transform="translate(101.39,17.90) rotate(0.03) scale(0.8775,1.0000)" font-size="18.4" fill="#fff" >1M</text>
<text transform="translate(146.50,17.90) rotate(0.03) scale(0.8644,1.0000)" font-size="18.4" fill="#fff" >6M</text>
<text transform="translate(193.01,17.90) rotate(0.03) scale(0.7818,1.0000)" font-size="18.4" fill="#fff" >YTD</text>
<text transform="translate(246.47,17.90) rotate(0.03) scale(0.8213,1.0000)" font-size="18.4" fill="#fff" >1Y</text>
<text transform="translate(290.03,17.90) rotate(0.03) scale(0.7777,1.0000)" font-size="18.4" fill="#fff" >5Y</text>
<text transform="translate(332.39,17.90) rotate(0.03) scale(0.8907,1.0000)" font-size="18.4" fill="#fff" >Max</text>
<text transform="translate(384.11,17.90) rotate(0.03) scale(0.9464,1.0000)" font-size="18.4" fill="#fff" >Monthly</text>
<text transform="translate(540.94,17.90) rotate(0.03) scale(0.9737,1.0000)" font-size="18.4" fill="#fff" >Table</text>
<polygon points="454.3,6.4 467.3,6.4 460.8,17.9" fill="#fff"/>
<g stroke="#d6d6d6" stroke-width="1.3" fill="none"><path d="M490.3 5.2V17.4H506.9"/><path d="M492.2 12.7L497.8 8L501.1 11.1L506.7 6.4"/></g>
<rect x="1480.6" y="0" width="227.7" height="23.2" fill="#17130a"/>
<rect x="1481.8" y="0.8" width="225.4" height="21.3" fill="#ffa028"/>
<text transform="translate(1485.00,17.90) rotate(0.03) scale(0.9475,1.0000)" font-size="18.4" fill="#86661c" >Add</text>
<text transform="translate(1523.11,17.90) rotate(0.03) scale(1.0134,1.0000)" font-size="18.4" fill="#86661c" >Data</text>
<rect x="1711.7" y="0" width="26.3" height="24.4" fill="#1e1e1e"/>
<rect x="1711.7" y="0" width="26.3" height="1" fill="#272727"/>
<rect x="1711.7" y="1" width="1" height="23.2" fill="#272727"/>
<rect x="1736.9" y="0" width="1.1" height="24.4" fill="#0e0e0e"/>
<rect x="1738" y="0" width="1.9" height="24.4" fill="#050505"/>
<rect x="1739.9" y="0" width="114.3" height="24.4" fill="#1e1e1e"/>
<rect x="1739.9" y="0" width="114.3" height="1" fill="#272727"/>
<rect x="1739.9" y="1" width="1" height="23.2" fill="#272727"/>
<rect x="1853.1" y="0" width="1.1" height="24.4" fill="#0e0e0e"/>
<rect x="1854.2" y="0" width="31.0" height="24.4" fill="#1e1e1e"/>
<rect x="1854.2" y="0" width="31.0" height="1" fill="#272727"/>
<rect x="1854.2" y="1" width="1" height="23.2" fill="#272727"/>
<rect x="1884.1" y="0" width="1.1" height="24.4" fill="#0e0e0e"/>
<rect x="1885.2" y="0" width="29.8" height="24.4" fill="#1e1e1e"/>
<rect x="1885.2" y="0" width="29.8" height="1" fill="#272727"/>
<rect x="1885.2" y="1" width="1" height="23.2" fill="#272727"/>
<rect x="1913.9" y="0" width="1.1" height="24.4" fill="#0e0e0e"/>
<g stroke="#e0e0e0" stroke-width="2.8" fill="none" stroke-linejoin="miter"><path d="M1724.4 4.8L1719.3 11.5L1724.4 18.2"/><path d="M1731.4 4.8L1726.3 11.5L1731.4 18.2"/></g>
<polygon points="1750.7,12.4 1759.3,4.2 1762.4,7.3 1753.8,15.7" fill="#e0e0e0"/>
<polygon points="1749.3,13.8 1752.5,17 1746.1,19.6" fill="#e0e0e0"/>
<text transform="translate(1768.50,17.90) rotate(0.03) scale(0.9492,1.0000)" font-size="18.4" fill="#fff" >Edit</text>
<text transform="translate(1804.94,17.90) rotate(0.03) scale(0.9323,1.0000)" font-size="18.4" fill="#fff" >Chart</text>
<rect x="1862.2" y="6.3" width="7.5" height="10" fill="#7c7c7c"/>
<g fill="#1d1d1d"><rect x="1863.8" y="8.4" width="6" height="1.1"/><rect x="1863.8" y="11.3" width="6" height="1.2"/><rect x="1863.8" y="14.2" width="6" height="1.1"/></g>
<path d="M1865.2 18.2L1874.9 6.6" stroke="#1d1d1d" stroke-width="4.6" fill="none"/>
<path d="M1866.3 16.9L1874.5 7.3" stroke="#fff" stroke-width="2.4" fill="none" stroke-linecap="round"/>
<rect x="1870.5" y="16.6" width="6.4" height="1.5" fill="#fff"/>
<g fill="#dcdcdc"><rect x="-1.6" y="-8.1" width="3.2" height="4" transform="translate(1899.95,11.7) rotate(0)"/><rect x="-1.6" y="-8.1" width="3.2" height="4" transform="translate(1899.95,11.7) rotate(45)"/><rect x="-1.6" y="-8.1" width="3.2" height="4" transform="translate(1899.95,11.7) rotate(90)"/><rect x="-1.6" y="-8.1" width="3.2" height="4" transform="translate(1899.95,11.7) rotate(135)"/><rect x="-1.6" y="-8.1" width="3.2" height="4" transform="translate(1899.95,11.7) rotate(180)"/><rect x="-1.6" y="-8.1" width="3.2" height="4" transform="translate(1899.95,11.7) rotate(225)"/><rect x="-1.6" y="-8.1" width="3.2" height="4" transform="translate(1899.95,11.7) rotate(270)"/><rect x="-1.6" y="-8.1" width="3.2" height="4" transform="translate(1899.95,11.7) rotate(315)"/></g>
<circle cx="1899.95" cy="11.7" r="4.1" fill="none" stroke="#dcdcdc" stroke-width="3.2"/>
</svg>
</body></html>
